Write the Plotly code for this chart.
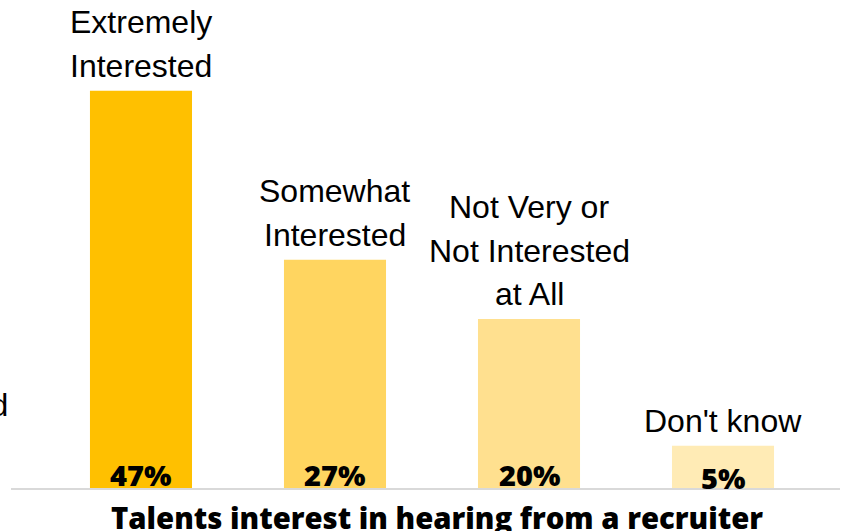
import plotly.graph_objects as go

categories = ["Extremely Interested", "Somewhat Interested", "Not Very or Not Interested at All", "Don't know"]
label_lines = [["Extremely", "Interested"], ["Somewhat", "Interested"], ["Not Very or", "Not Interested", "at All"], ["Don't know"]]
values = [47, 27, 20, 5]
pct_labels = ["47%", "27%", "20%", "5%"]
colors = ["#FFC000", "#FFD560", "#FFE08F", "#FFEBB5"]
title_text = "Talents interest in hearing from a recruiter"
stray_text = "Interested"

W, H = 844, 531
ML, MR, MT, MB = 11, 4, 0, 43
px_per_unit = 8.45
plot_h = H - MT - MB
ymax = plot_h / px_per_unit

fig = go.Figure()
fig.add_trace(go.Bar(
    x=list(range(len(categories))), y=values,
    marker=dict(color=colors, line=dict(width=0)),
    width=0.526, hoverinfo="skip", showlegend=False,
))

label_font = dict(family="Liberation Sans, Arial, sans-serif", size=32, color="#000000")
pct_font = dict(family="Open Sans, sans-serif", size=29, color="#000000", weight=800)
title_font = dict(family="Open Sans, sans-serif", size=29.3, color="#000000", weight=800)

annotations = []
for i, (lines, v) in enumerate(zip(label_lines, values)):
    n = len(lines)
    for k, line in enumerate(lines):
        from_bottom = n - 1 - k
        annotations.append(dict(
            x=i, y=v, xref="x", yref="y", text=line, showarrow=False,
            xanchor="center", yanchor="bottom", font=label_font,
            yshift=5 + from_bottom * 43.5,
        ))
for i, (t, v) in enumerate(zip(pct_labels, values)):
    annotations.append(dict(
        x=i, y=0, xref="x", yref="y", text=t, showarrow=False,
        xanchor="center", yanchor="bottom", font=pct_font,
        yshift=-8 if v >= 10 else -11,
    ))
# title
annotations.append(dict(
    x=(437 - ML) / (W - ML - MR), y=0, xref="paper", yref="paper",
    text=title_text, showarrow=False, xanchor="center", yanchor="top",
    font=title_font, yshift=-8,
))
# stray cut-off label at far left
annotations.append(dict(
    x=(10 - ML) / (W - ML - MR), y=0, xref="paper", yref="paper",
    text=stray_text, showarrow=False, xanchor="right", yanchor="bottom",
    font=label_font, yshift=(488 - 417) - 8,
))

fig.update_layout(
    width=W, height=H,
    margin=dict(l=ML, r=MR, t=MT, b=MB, pad=0),
    paper_bgcolor="white", plot_bgcolor="white",
    bargap=0.474,
    xaxis=dict(range=[-0.670, 3.603], showticklabels=False, ticks="",
               showgrid=False, zeroline=False, showline=True,
               linecolor="#D9D9D9", linewidth=2, fixedrange=True),
    yaxis=dict(range=[0, ymax], visible=False, showgrid=False, zeroline=False,
               fixedrange=True),
    annotations=annotations,
)

fig.write_html("out.html", config={"displayModeBar": False})
